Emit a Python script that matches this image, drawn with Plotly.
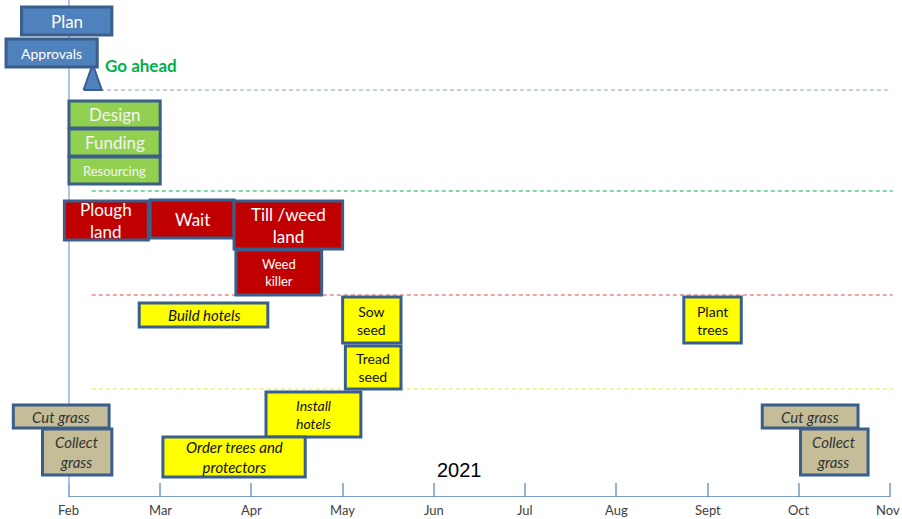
import plotly.graph_objects as go

# Month axis: 0 = Feb ... 9 = Nov (2021)
month_labels = ["Feb", "Mar", "Apr", "May", "Jun", "Jul", "Aug", "Sept", "Oct", "Nov"]
month_pos = list(range(len(month_labels)))

# Tasks: label, start month, end month, top, bottom (vertical lanes, 0 = top), group
task_labels = ["Plan", "Approvals",
               "Design", "Funding", "Resourcing",
               "Plough<br>land", "Wait", "Till /weed<br>land", "Weed<br>killer",
               "Build hotels", "Sow<br>seed", "Tread<br>seed", "Plant<br>trees",
               "Install<br>hotels", "Order trees and<br>protectors",
               "Cut grass", "Collect<br>grass", "Cut grass", "Collect<br>grass"]
task_start = [-0.52, -0.69,
              0.00, 0.00, 0.00,
              -0.05, 0.89, 1.81, 1.83,
              0.77, 3.00, 3.03, 6.74,
              2.16, 1.03,
              -0.61, -0.29, 7.60, 8.02]
task_end = [0.47, 0.31,
            1.00, 1.00, 1.00,
            0.87, 1.81, 3.00, 2.77,
            2.18, 3.64, 3.64, 7.37,
            3.20, 2.59,
            0.44, 0.47, 8.65, 8.76]
task_top = [7, 39,
            101, 129, 157,
            201, 200, 201, 250,
            303, 297, 346, 297,
            392, 437,
            405, 429, 405, 429]
task_bottom = [35, 67,
               128, 156, 184,
               240, 238, 249, 295,
               327, 343, 389, 343,
               437, 477,
               428, 475, 428, 475]
task_group = ["plan", "plan",
              "design", "design", "design",
              "land", "land", "land", "land",
              "yellow", "yellow", "yellow", "yellow",
              "yellow", "yellow",
              "grass", "grass", "grass", "grass"]
task_font = [17, 14,
             17, 17, 13,
             17, 17, 17, 13,
             15, 14, 14, 14,
             14, 15,
             15, 15, 15, 15]
task_italic = [False, False,
               False, False, False,
               False, False, False, False,
               True, False, False, False,
               True, True,
               True, True, True, True]

group_fill = {"plan": "#4f81bd", "design": "#92d050", "land": "#c00000",
              "yellow": "#ffff00", "grass": "#c4bd97"}
group_text = {"plan": "#ffffff", "design": "#f4f4f4", "land": "#ffffff",
              "yellow": "#111111", "grass": "#333333"}

# Phase separators: vertical level, start month, colour
sep_level = [90, 191, 295, 389]
sep_start = [0.34, 0.25, 0.25, 0.25]
sep_end = [9.00, 9.03, 9.03, 9.03]
sep_color = ["#7f9fd0", "#00b050", "#d05050", "#e8e840"]

# Milestone
milestone_label = "Go ahead"
milestone_month = 0.26
milestone_halfwidth = 0.10
milestone_top = 64
milestone_bottom = 90

year_label = "2021"
axis_level = 497

fig = go.Figure()
shapes = []
annotations = []

# Feb start line
shapes.append(dict(type="line", xref="x", yref="y", x0=0, x1=0, y0=0, y1=axis_level,
                   line=dict(color="#95b3d7", width=1.5), layer="below"))

for lvl, s, e, c in zip(sep_level, sep_start, sep_end, sep_color):
    shapes.append(dict(type="line", xref="x", yref="y", x0=s, x1=e, y0=lvl, y1=lvl,
                       line=dict(color=c, width=1, dash="4px,3px"), layer="below"))

# Time axis baseline
shapes.append(dict(type="line", xref="x", yref="y", x0=month_pos[0], x1=month_pos[-1],
                   y0=axis_level, y1=axis_level, line=dict(color="#4f81bd", width=1.5)))

for lab, s, e, t, b, g, fs, it in zip(task_labels, task_start, task_end, task_top,
                                      task_bottom, task_group, task_font, task_italic):
    shapes.append(dict(type="rect", xref="x", yref="y", x0=s, x1=e, y0=t, y1=b,
                       fillcolor=group_fill[g], line=dict(color="#3a5f8c", width=3)))
    txt = "<i>" + lab + "</i>" if it else lab
    annotations.append(dict(x=(s + e) / 2, y=(t + b) / 2, xref="x", yref="y",
                            text=txt, showarrow=False,
                            font=dict(family="Lato", size=fs, color=group_text[g])))

# Milestone triangle
fig.add_trace(go.Scatter(
    x=[milestone_month - milestone_halfwidth, milestone_month,
       milestone_month + milestone_halfwidth, milestone_month - milestone_halfwidth],
    y=[milestone_bottom, milestone_top, milestone_bottom, milestone_bottom],
    mode="lines", fill="toself", fillcolor="#4f81bd",
    line=dict(color="#3a5f8c", width=2), hoverinfo="skip", showlegend=False))

annotations.append(dict(x=milestone_month + milestone_halfwidth + 0.01, y=65,
                        xref="x", yref="y", xanchor="left", text="<b>" + milestone_label + "</b>",
                        showarrow=False, font=dict(family="Lato", size=17, color="#00b050")))

annotations.append(dict(x=4.28, y=470, xref="x", yref="y", text=year_label, showarrow=False,
                        font=dict(family="Liberation Sans", size=20, color="#000000")))

# Month labels under the baseline; the last one is kept inside the right edge
for i, (pos, lab) in enumerate(zip(month_pos, month_labels)):
    last = i == len(month_pos) - 1
    annotations.append(dict(x=1 if last else pos, xref="paper" if last else "x",
                            xanchor="right" if last else "center",
                            y=0, yref="paper", yshift=-13,
                            text=lab, showarrow=False, yanchor="middle",
                            font=dict(family="Lato", size=13, color="#404040")))

fig.update_layout(
    width=902, height=519,
    margin=dict(l=0, r=0, t=0, b=22),
    paper_bgcolor="#ffffff", plot_bgcolor="#ffffff",
    shapes=shapes, annotations=annotations, showlegend=False,
    xaxis=dict(range=[-0.756, 9.132], tickvals=month_pos, ticktext=[""] * len(month_pos),
               ticks="inside", ticklen=14, tickcolor="#95b3d7", tickwidth=1.5,
               showgrid=False, zeroline=False, showline=False),
    yaxis=dict(range=[axis_level, 0], visible=False, showgrid=False, zeroline=False),
)

fig.write_html("out.html")
